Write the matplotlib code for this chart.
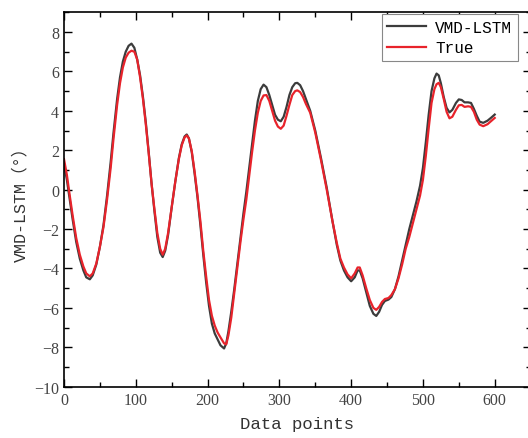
import matplotlib
matplotlib.use('Agg')
from matplotlib import pyplot as plt
from matplotlib.ticker import MultipleLocator

# data points (same x grid for both series)
x_pts = [0, 4, 8, 12, 17, 22, 27, 31, 36, 40, 45, 50, 55, 60, 65, 69, 74, 78, 82, 86,
         90, 94, 98, 102, 106, 110, 114, 118, 122, 126, 130, 134, 137.5, 141, 145, 150,
         155, 160, 164, 168, 171, 174, 178, 182, 186, 190, 194, 198, 202, 206, 210, 214,
         218, 223, 226, 229, 233, 237, 241, 246, 250, 254, 258, 262, 266, 270, 274, 278,
         282, 286, 290, 294, 298, 302, 306, 310, 314, 318, 322, 325, 329, 333, 337, 343,
         350, 358, 366, 374, 380, 385, 390, 395, 400, 405, 409, 412, 416, 421, 426, 431,
         435, 439, 443, 447, 452, 456, 461, 466, 471, 476, 481, 486, 491, 496, 500, 504,
         508, 512, 516, 519, 522, 525, 529, 533, 537, 541, 546, 550, 554, 558, 563, 567,
         571, 575, 579, 584, 590, 595, 600]

y_pred = [1.3, 0.5, -0.5, -1.5, -2.65, -3.5, -4.1, -4.45, -4.55, -4.35, -3.8, -2.9, -1.8,
          -0.3, 1.4, 2.9, 4.6, 5.7, 6.5, 7.0, 7.3, 7.41, 7.2, 6.6, 5.8, 4.7, 3.4, 1.9, 0.3,
          -1.1, -2.4, -3.2, -3.42, -3.1, -2.3, -0.9, 0.4, 1.6, 2.3, 2.7, 2.8, 2.6, 1.9, 0.8,
          -0.4, -1.8, -3.3, -4.7, -5.9, -6.8, -7.3, -7.6, -7.9, -8.06, -7.8, -7.2, -6.2,
          -5.1, -3.9, -2.4, -1.2, -0.1, 1.1, 2.3, 3.5, 4.5, 5.1, 5.33, 5.2, 4.8, 4.3, 3.8,
          3.55, 3.47, 3.7, 4.2, 4.8, 5.2, 5.4, 5.42, 5.3, 5.0, 4.6, 4.0, 3.0, 1.6, 0.1,
          -1.6, -2.8, -3.6, -4.1, -4.45, -4.65, -4.45, -4.1, -4.1, -4.5, -5.2, -5.9, -6.3,
          -6.41, -6.2, -5.85, -5.65, -5.58, -5.45, -5.05, -4.4, -3.6, -2.8, -2.0, -1.3,
          -0.6, 0.2, 1.1, 2.4, 3.8, 5.0, 5.65, 5.89, 5.8, 5.4, 4.7, 4.15, 3.92, 4.05, 4.4,
          4.58, 4.55, 4.43, 4.43, 4.4, 4.1, 3.75, 3.45, 3.39, 3.5, 3.65, 3.81]

y_true = [1.55, 0.75, -0.3, -1.3, -2.45, -3.3, -3.9, -4.25, -4.4, -4.25, -3.75, -2.9, -1.9,
          -0.5, 1.1, 2.6, 4.3, 5.4, 6.2, 6.7, 6.95, 7.05, 7.0, 6.6, 5.7, 4.6, 3.3, 1.85, 0.3,
          -1.0, -2.2, -3.0, -3.3, -3.0, -2.2, -0.9, 0.4, 1.55, 2.25, 2.65, 2.75, 2.6, 1.95,
          0.9, -0.3, -1.6, -3.1, -4.4, -5.6, -6.4, -6.9, -7.25, -7.5, -7.8, -7.85, -7.4,
          -6.5, -5.3, -4.1, -2.6, -1.5, -0.5, 0.7, 1.9, 3.0, 3.9, 4.5, 4.78, 4.8, 4.5, 4.0,
          3.5, 3.2, 3.09, 3.25, 3.75, 4.3, 4.8, 5.0, 5.04, 4.95, 4.7, 4.35, 3.9, 2.9, 1.5,
          0.0, -1.6, -2.7, -3.5, -3.95, -4.3, -4.5, -4.25, -3.95, -3.95, -4.35, -5.0, -5.6,
          -6.0, -6.1, -5.95, -5.7, -5.55, -5.5, -5.35, -5.05, -4.5, -3.8, -3.0, -2.4, -1.7,
          -1.0, -0.3, 0.5, 1.7, 3.1, 4.4, 5.1, 5.35, 5.42, 5.2, 4.6, 3.95, 3.62, 3.7, 4.05,
          4.28, 4.3, 4.2, 4.23, 4.2, 3.95, 3.55, 3.3, 3.22, 3.32, 3.48, 3.64]

label_font = ['Liberation Mono', 'Noto Sans CJK SC']

fig = plt.figure(figsize=(5.28, 4.39), dpi=100)
ax = fig.add_axes([64/528, 1 - 387.7/439, 466.6/528, (387.7 - 13.3)/439])

ax.plot(x_pts, y_pred, color='#3c3c3c', lw=1.6, label='VMD-LSTM')
ax.plot(x_pts, y_true, color='#e8232b', lw=1.6, label='True')

ax.set_xlim(0, 650)
ax.set_ylim(-10, 9)
ax.xaxis.set_major_locator(MultipleLocator(100))
ax.xaxis.set_minor_locator(MultipleLocator(50))
ax.yaxis.set_major_locator(MultipleLocator(2))
ax.yaxis.set_minor_locator(MultipleLocator(1))
ax.tick_params(which='both', direction='in', top=True, right=True,
               labelsize=11.5, labelcolor='#444444', width=1)
ax.tick_params(which='major', length=6)
ax.tick_params(which='minor', length=3.5)
for lab in ax.get_xticklabels() + ax.get_yticklabels():
    lab.set_family('Liberation Serif')
for sp in ax.spines.values():
    sp.set_linewidth(1.2)

ax.set_xlabel('Data points', fontsize=12.5, family=label_font, color='#333333', labelpad=6)
ax.set_ylabel('VMD-LSTM（°）', fontsize=12, family=label_font, color='#333333')

leg = ax.legend(loc='upper right', bbox_to_anchor=(518/528, 1 - 15/439),
                bbox_transform=fig.transFigure, borderaxespad=0,
                prop={'family': label_font, 'size': 11.5}, fancybox=False,
                edgecolor='#888888', framealpha=1, handlelength=2.4,
                handletextpad=0.6, borderpad=0.35, labelspacing=0.35)
leg.get_frame().set_linewidth(0.8)

fig.savefig('out.png', dpi=100)
